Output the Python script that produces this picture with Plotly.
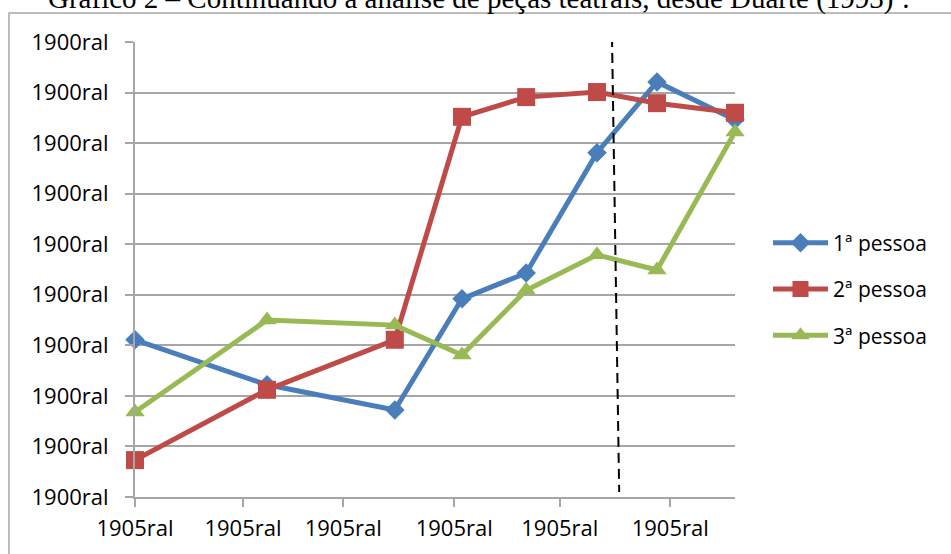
import plotly.graph_objects as go

# ---- data ----
x_vals = [0, 22, 43.3, 54.5, 65.2, 77, 87, 100]
pessoa1 = [31.1, 22.2, 17.2, 39.2, 44.3, 68.1, 82.1, 74.6]
pessoa2 = [7.3, 21.2, 31.1, 75.2, 79.1, 80.1, 77.9, 76.0]
pessoa3 = [16.8, 35.0, 34.0, 28.1, 40.9, 47.9, 44.9, 72.2]
series_names = ["1ª pessoa", "2ª pessoa", "3ª pessoa"]

y_tickvals = [0, 10, 20, 30, 40, 50, 60, 70, 80, 90]
y_ticktext = ["1900ral"] * len(y_tickvals)
x_tickvals = [0, 18, 34.7, 53.2, 70.8, 89.2]
x_ticktext = ["1905ral"] * len(x_tickvals)

divider_x = [79.5, 80.7]
divider_y = [91, 1.0]

title_text = "Gráfico 2 – Continuando a análise de peças teatrais, desde Duarte (1993)¹."

colors = ["#4A7EBB", "#BE4B48", "#98B954"]
symbols = ["diamond", "square", "triangle-up"]
sizes = [15, 18, 17]

fig = go.Figure()
for i, (name, vals) in enumerate(zip(series_names, [pessoa1, pessoa2, pessoa3])):
    fig.add_trace(go.Scatter(
        x=x_vals, y=vals, name=name, mode="lines+markers",
        legendgroup=f"g{i}",
        line=dict(color=colors[i], width=5),
        marker=dict(symbol=symbols[i], size=sizes[i], color=colors[i],
                    line=dict(width=0)),
        cliponaxis=False,
    ))

font_family = "'Open Sans', sans-serif"

fig.update_layout(
    width=951, height=554,
    margin=dict(l=135, r=216, t=42, b=57),
    paper_bgcolor="white", plot_bgcolor="white",
    font=dict(family=font_family, size=22, color="black"),
    showlegend=True,
    legend=dict(
        x=1.055, y=0.457, xanchor="left", yanchor="middle",
        font=dict(size=21, family=font_family),
        tracegroupgap=16, itemwidth=55,
        bgcolor="rgba(0,0,0,0)",
    ),
    xaxis=dict(
        range=[0, 100], tickmode="array", tickvals=x_tickvals, ticktext=x_ticktext,
        showgrid=False, zeroline=False,
        showline=True, linecolor="#a6a6a6", linewidth=2,
        ticks="outside", ticklen=8, tickcolor="#a6a6a6", tickwidth=2,
        ticklabelstandoff=3,
    ),
    yaxis=dict(
        range=[0, 90], tickmode="array", tickvals=y_tickvals, ticktext=y_ticktext,
        showgrid=True, gridcolor="#a6a6a6", gridwidth=2, zeroline=False,
        showline=True, linecolor="#a6a6a6", linewidth=2,
        ticks="outside", ticklen=8, tickcolor="#a6a6a6", tickwidth=2,
        ticklabelstandoff=12,
    ),
    shapes=[
        dict(type="line", xref="x", yref="y",
             x0=divider_x[0], y0=divider_y[0], x1=divider_x[1], y1=divider_y[1],
             line=dict(color="black", width=2, dash="10px,6px"), layer="above"),
        dict(type="rect", xref="paper", yref="paper",
             x0=-126 / 600, x1=1.5, y0=(497 - 13) / 455, y1=-0.3,
             line=dict(color="#a6a6a6", width=1.5), fillcolor="rgba(0,0,0,0)",
             layer="below"),
    ],
    annotations=[
        dict(text=title_text, xref="paper", yref="paper",
             x=(478 - 135) / 600, y=(497 - 17) / 455,
             xanchor="center", yanchor="bottom", showarrow=False,
             font=dict(family="'Liberation Serif', 'Times New Roman', serif", size=29, color="black")),
    ],
)

fig.write_html("out.html", config={"displayModeBar": False},
               post_script="document.body.style.margin='0px';")
